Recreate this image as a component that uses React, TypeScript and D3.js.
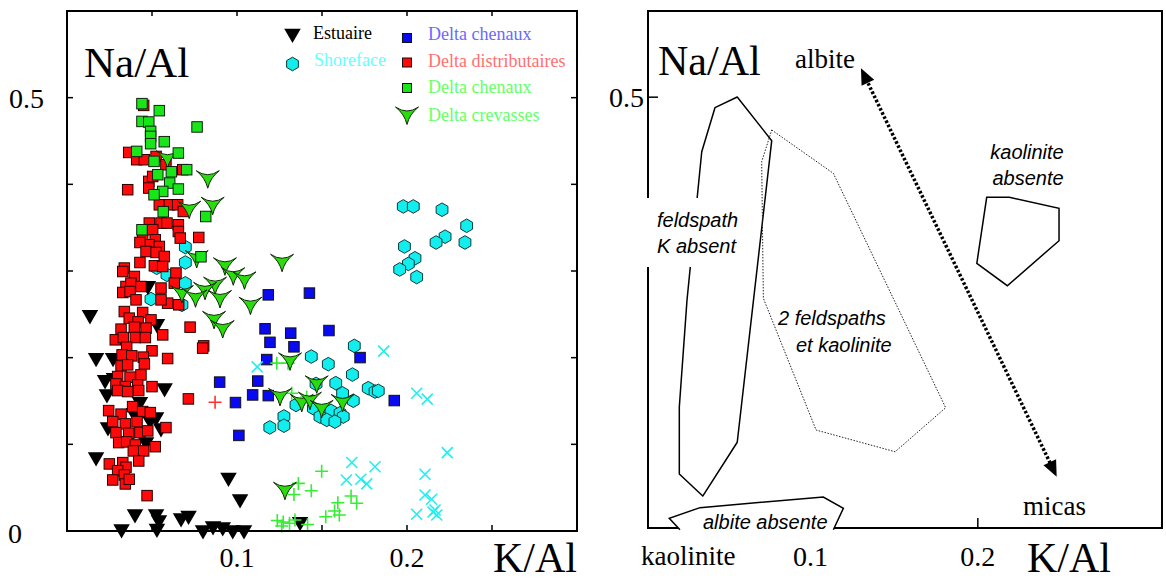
import React from "react";
import * as d3 from "d3";

type Pt = [number, number];

// ---------- Left panel data (K/Al, Na/Al) ----------
const estuaire: Pt[] = [
  [0.0135, 0.2494], [0.0171, 0.1998], [0.0271, 0.1998], [0.0224, 0.1744], [0.0276, 0.1767], [0.0235, 0.1582],
  [0.0476, 0.2829], [0.0529, 0.239], [0.0574, 0.1651], [0.0241, 0.1201], [0.0394, 0.1363], [0.0465, 0.1363],
  [0.0524, 0.1316], [0.0553, 0.1189], [0.0465, 0.1028], [0.0171, 0.0855], [0.095, 0.0618], [0.1018, 0.037],
  [0.04, 0.0196], [0.0524, 0.0196], [0.0541, 0.0127], [0.0671, 0.015], [0.0715, 0.0179], [0.0321, 0.0023],
  [0.0529, 0.0029], [0.08, 0.0012], [0.0859, 0.0058], [0.0916, 0.0046], [0.0975, 0.0012], [0.1041, 0.0012],
  [0.1371, 0.0107], [0.0429, 0.149], [0.0488, 0.1282],
];

const shoreface: Pt[] = [
  [0.0696, 0.3276], [0.0696, 0.3098], [0.0528, 0.3037], [0.0588, 0.2956], [0.0696, 0.2858], [0.0494, 0.2676],
  [0.0676, 0.261],
  [0.169, 0.2136], [0.1437, 0.2013], [0.1537, 0.1925], [0.1679, 0.1805], [0.1581, 0.1706], [0.1465, 0.1697],
  [0.1621, 0.1588], [0.1772, 0.1648], [0.1812, 0.1609], [0.1831, 0.1617], [0.1684, 0.1503], [0.1347, 0.1455],
  [0.1449, 0.1417], [0.1553, 0.1386], [0.1606, 0.1359], [0.1625, 0.132], [0.1488, 0.132], [0.1528, 0.1282],
  [0.1576, 0.1262], [0.1276, 0.1322], [0.1276, 0.1215], [0.1193, 0.1195],
  [0.1978, 0.3745], [0.2037, 0.3745], [0.2206, 0.3707], [0.2351, 0.3522], [0.2341, 0.3329], [0.2224, 0.3396],
  [0.2171, 0.3329], [0.1985, 0.3283], [0.2047, 0.3147], [0.2008, 0.3082], [0.1957, 0.3018], [0.2057, 0.293],
];

const deltaChenauxBleu: Pt[] = [
  [0.1184, 0.2725], [0.1426, 0.2745], [0.1165, 0.2333], [0.1316, 0.2283], [0.1541, 0.2313], [0.1194, 0.2177],
  [0.1335, 0.2125], [0.1724, 0.2001], [0.1175, 0.1978], [0.0898, 0.1718], [0.1122, 0.173], [0.1092, 0.157],
  [0.1184, 0.1562], [0.0991, 0.1482], [0.1925, 0.1505], [0.1011, 0.1103],
];

const deltaDistributaires: Pt[] = [
  [0.0451, 0.4911], [0.0363, 0.4368], [0.041, 0.4284], [0.0455, 0.4284], [0.0524, 0.4322], [0.0582, 0.4226],
  [0.0681, 0.4169], [0.0481, 0.4034], [0.0481, 0.3957], [0.0504, 0.4091], [0.0357, 0.3938], [0.0543, 0.3764],
  [0.0602, 0.3764], [0.0651, 0.3764], [0.0684, 0.3687], [0.0484, 0.3553], [0.0553, 0.3553], [0.0588, 0.3553],
  [0.0655, 0.3533], [0.0655, 0.3456], [0.0666, 0.338], [0.0775, 0.3387], [0.0445, 0.338], [0.0504, 0.3476],
  [0.0519, 0.336], [0.0484, 0.3303], [0.0543, 0.3283], [0.0429, 0.3329], [0.0465, 0.3225], [0.0524, 0.3214],
  [0.0572, 0.3167], [0.0429, 0.3098], [0.0337, 0.3034], [0.0328, 0.2994], [0.0514, 0.306], [0.0563, 0.3052],
  [0.0641, 0.2976], [0.0396, 0.2937], [0.0347, 0.2821], [0.0376, 0.286], [0.0435, 0.2821], [0.0553, 0.2803],
  [0.0631, 0.286], [0.0328, 0.2752], [0.0371, 0.2763], [0.0406, 0.2667], [0.0592, 0.2629], [0.0657, 0.261],
  [0.0553, 0.2667], [0.0337, 0.2532], [0.0366, 0.2456], [0.0445, 0.2521], [0.0494, 0.2436], [0.0418, 0.2413],
  [0.0318, 0.2329], [0.0396, 0.2352], [0.0465, 0.2341], [0.0724, 0.2352], [0.0284, 0.2206], [0.0331, 0.2232],
  [0.0402, 0.2232], [0.0461, 0.2232], [0.0563, 0.2263], [0.0804, 0.2136], [0.0798, 0.211], [0.0351, 0.2121],
  [0.05, 0.2079], [0.0324, 0.2032], [0.0381, 0.2021], [0.0449, 0.2006], [0.0592, 0.199], [0.0318, 0.1905],
  [0.0357, 0.1917], [0.0455, 0.1928], [0.0298, 0.1782], [0.0371, 0.1775], [0.0435, 0.1801], [0.0288, 0.1697],
  [0.0343, 0.1666], [0.0416, 0.1686], [0.05, 0.1666], [0.0298, 0.162], [0.0357, 0.1609], [0.0422, 0.162],
  [0.0714, 0.1524], [0.0245, 0.1389], [0.0318, 0.1348], [0.0386, 0.1435], [0.0445, 0.1378], [0.049, 0.1366],
  [0.0269, 0.1262], [0.0343, 0.1236], [0.0412, 0.1262], [0.0582, 0.1193], [0.0288, 0.1135], [0.0363, 0.1128],
  [0.0429, 0.1135], [0.0475, 0.1155], [0.0304, 0.102], [0.0351, 0.1028], [0.0402, 0.0993], [0.0519, 0.0973],
  [0.039, 0.0924], [0.0451, 0.0924], [0.0422, 0.0808], [0.0249, 0.0774], [0.0328, 0.0789], [0.0347, 0.0736],
  [0.0298, 0.0696], [0.0337, 0.0647], [0.0269, 0.0589], [0.0343, 0.0543], [0.0366, 0.0597], [0.0471, 0.0408],
];

const deltaChenauxVert: Pt[] = [
  [0.0441, 0.4931], [0.0543, 0.485], [0.0441, 0.4726], [0.0481, 0.4719], [0.0765, 0.4662], [0.0492, 0.4611],
  [0.0492, 0.4553], [0.0492, 0.4469], [0.0572, 0.4492], [0.041, 0.438], [0.0655, 0.4361], [0.0512, 0.4265],
  [0.0704, 0.4169], [0.0614, 0.4145], [0.0534, 0.4111], [0.0604, 0.4015], [0.0655, 0.3946], [0.0563, 0.3918],
  [0.0512, 0.388], [0.0566, 0.3684], [0.0816, 0.3629], [0.0441, 0.3476], [0.0788, 0.3164],
];

const deltaCrevasses: Pt[] = [
  [0.0591, 0.4319], [0.0828, 0.4088], [0.0857, 0.3782], [0.0719, 0.3736], [0.0763, 0.3167], [0.0929, 0.3083],
  [0.1265, 0.3124], [0.0978, 0.2968], [0.1044, 0.2921], [0.0871, 0.286], [0.0812, 0.28], [0.0676, 0.2763],
  [0.0756, 0.2714], [0.09, 0.2706], [0.1079, 0.2629], [0.0865, 0.2465], [0.0916, 0.2359], [0.1312, 0.1986],
  [0.1469, 0.1721], [0.1253, 0.1576], [0.1381, 0.1507], [0.1429, 0.1532], [0.1498, 0.1438], [0.1621, 0.1507],
  [0.1282, 0.0493],
];

const plusVert: Pt[] = [
  [0.1234, 0.1937], [0.13, 0.1937], [0.1322, 0.159], [0.141, 0.1547], [0.1498, 0.0689], [0.1361, 0.0549],
  [0.1437, 0.0465], [0.1335, 0.0421], [0.1671, 0.0404], [0.1704, 0.032], [0.1593, 0.0326], [0.1574, 0.0231],
  [0.1602, 0.0185], [0.1522, 0.0165], [0.1237, 0.0121], [0.1272, 0.0104], [0.1309, 0.0089], [0.1341, 0.0127],
  [0.1415, 0.0075], [0.1263, 0.0058],
];

const croixCyan: Pt[] = [
  [0.1863, 0.2075], [0.1119, 0.1894], [0.2057, 0.159], [0.2119, 0.1521], [0.1675, 0.0791], [0.1812, 0.0742],
  [0.1643, 0.0589], [0.1728, 0.0597], [0.1763, 0.0543], [0.2237, 0.0904], [0.2106, 0.0655], [0.2106, 0.0416],
  [0.2145, 0.0366], [0.2057, 0.0193], [0.2165, 0.0242], [0.2175, 0.0185], [0.2153, 0.0219],
];

const plusRouge: Pt[] = [[0.0871, 0.1486]];

// ---------- Right panel domains ----------
const feldspathKAbsent: Pt[] = [
  [0.0217, 0.0627], [0.0217, 0.1404], [0.0263, 0.2646], [0.0351, 0.4367], [0.043, 0.4878], [0.0563, 0.5002],
  [0.0769, 0.4495], [0.0563, 0.0995], [0.0357, 0.0371],
];
const deuxFeldspaths: Pt[] = [
  [0.0769, 0.4619], [0.1137, 0.4116], [0.1808, 0.1396], [0.1506, 0.0885], [0.1034, 0.1137], [0.0719, 0.2666],
  [0.0709, 0.4251],
];
const kaoliniteAbsente: Pt[] = [
  [0.2053, 0.3838], [0.2188, 0.3838], [0.2485, 0.371], [0.2485, 0.3334], [0.2176, 0.2812], [0.1994, 0.3072],
];
const albiteAbsente: Pt[] = [
  [0.0221, -0.002], [0.0157, 0.0113], [0.0341, 0.0236], [0.1077, 0.036], [0.1197, 0.0229], [0.1137, -0.002],
];
const arrowAlbite: Pt = [0.1302, 0.5335];
const arrowMicas: Pt = [0.2471, 0.0595];

const yTicksL = [0.1, 0.2, 0.3, 0.4, 0.5];
const xTicksL = [0.05, 0.1, 0.15, 0.2, 0.25];

const SERIF = "'Liberation Serif', 'Times New Roman', serif";
const SANS = "'Liberation Sans', Arial, sans-serif";

const hexPath = (() => {
  const r = 6.8;
  const pts = d3.range(6).map((i) => {
    const a = (Math.PI / 3) * i - Math.PI / 2;
    return [r * Math.cos(a), r * Math.sin(a)];
  });
  return "M" + pts.map((p) => p[0].toFixed(2) + "," + p[1].toFixed(2)).join("L") + "Z";
})();
const triPath = d3.symbol(d3.symbolTriangle, 118)() as string;
const yPath = "M-11.5,-6 Q0,2 11.5,-6 Q2.5,1 0,11.5 Q-2.5,1 -11.5,-6 Z";

const C = {
  red: "#ff0a0a",
  green: "#19e619",
  blue: "#0a0af0",
  cyan: "#12eeee",
  yGreen: "#2adc0c",
};

export default function App() {
  const xL = d3.scaleLinear().domain([0, 0.3]).range([67, 577]);
  const yL = d3.scaleLinear().domain([0, 0.6]).range([531, 11]);
  const xR = d3.scaleLinear().domain([0.003, 0.31]).range([648, 1162]);
  const yR = d3.scaleLinear().domain([0, 0.6]).range([528, 11]);

  const polyR = (pts: Pt[]) => pts.map((p) => `${xR(p[0])},${yR(p[1])}`).join(" ");

  // arrow geometry
  const a0 = [xR(arrowAlbite[0]), yR(arrowAlbite[1])];
  const a1 = [xR(arrowMicas[0]), yR(arrowMicas[1])];
  const dx = a1[0] - a0[0], dy = a1[1] - a0[1];
  const len = Math.hypot(dx, dy);
  const ux = dx / len, uy = dy / len;
  const hl = 16, hw = 7;
  const head = (tip: number[], dir: number) => {
    const bx = tip[0] - dir * ux * hl, by = tip[1] - dir * uy * hl;
    return `${tip[0]},${tip[1]} ${bx - uy * hw},${by + ux * hw} ${bx + uy * hw},${by - ux * hw}`;
  };

  const sq = 10.5;

  return (
    <svg width={1166} height={582} style={{ position: "absolute", left: 0, top: 0, background: "#fff" }}>
      <rect x={0} y={0} width={1166} height={582} fill="#fff" />
      {/* ================= LEFT PANEL ================= */}
      <g>
        <g>
          {shoreface.map((d, i) => (
            <path key={"h" + i} d={hexPath} transform={`translate(${xL(d[0])},${yL(d[1])})`} fill={C.cyan} stroke="#0b3b3b" strokeWidth={1} />
          ))}
        </g>
        <g>
          {estuaire.map((d, i) => (
            <path key={"t" + i} d={triPath} transform={`translate(${xL(d[0])},${yL(d[1])}) rotate(180)`} fill="#000" />
          ))}
        </g>
        <g>
          {deltaDistributaires.map((d, i) => (
            <rect key={"r" + i} x={xL(d[0]) - sq / 2} y={yL(d[1]) - sq / 2} width={sq} height={sq} fill={C.red} stroke="#2a0000" strokeWidth={1} />
          ))}
        </g>
        <g>
          {deltaChenauxBleu.map((d, i) => (
            <rect key={"b" + i} x={xL(d[0]) - sq / 2} y={yL(d[1]) - sq / 2} width={sq} height={sq} fill={C.blue} stroke="#111" strokeWidth={1} />
          ))}
        </g>
        <g stroke="#22eeee" strokeWidth={1.6}>
          {croixCyan.map((d, i) => {
            const cx = xL(d[0]), cy = yL(d[1]), s = 5.5;
            return <path key={"x" + i} d={`M${cx - s},${cy - s}L${cx + s},${cy + s}M${cx - s},${cy + s}L${cx + s},${cy - s}`} />;
          })}
        </g>
        <g stroke="#33ee33" strokeWidth={1.6}>
          {plusVert.map((d, i) => {
            const cx = xL(d[0]), cy = yL(d[1]), s = 6.5;
            return <path key={"p" + i} d={`M${cx - s},${cy}L${cx + s},${cy}M${cx},${cy - s}L${cx},${cy + s}`} />;
          })}
        </g>
        <g stroke="#ff3030" strokeWidth={1.6}>
          {plusRouge.map((d, i) => {
            const cx = xL(d[0]), cy = yL(d[1]), s = 6.5;
            return <path key={"pr" + i} d={`M${cx - s},${cy}L${cx + s},${cy}M${cx},${cy - s}L${cx},${cy + s}`} />;
          })}
        </g>
        <g>
          {deltaCrevasses.map((d, i) => (
            <path key={"y" + i} d={yPath} transform={`translate(${xL(d[0])},${yL(d[1])})`} fill={C.yGreen} stroke="#0d2a05" strokeWidth={1} />
          ))}
        </g>
        <g>
          {deltaChenauxVert.map((d, i) => (
            <rect key={"g" + i} x={xL(d[0]) - sq / 2} y={yL(d[1]) - sq / 2} width={sq} height={sq} fill={C.green} stroke="#102010" strokeWidth={1} />
          ))}
        </g>

        {/* frame */}
        <rect x={xL(0)} y={yL(0.6)} width={xL(0.3) - xL(0)} height={yL(0) - yL(0.6)} fill="none" stroke="#000" strokeWidth={2} />
        <g stroke="#000" strokeWidth={1.5}>
          {yTicksL.map((t) => (
            <g key={"yt" + t}>
              <line x1={xL(0)} x2={xL(0) + 6} y1={yL(t)} y2={yL(t)} />
              <line x1={xL(0.3)} x2={xL(0.3) - 6} y1={yL(t)} y2={yL(t)} />
            </g>
          ))}
          {xTicksL.map((t) => (
            <g key={"xt" + t}>
              <line x1={xL(t)} x2={xL(t)} y1={yL(0.6)} y2={yL(0.6) + 5} />
              <line x1={xL(t)} x2={xL(t)} y1={yL(0)} y2={yL(0) - 6} />
            </g>
          ))}
        </g>
        <g fontFamily={SERIF} fontSize={28} fill="#000">
          <text x={9} y={yL(0.5) + 10}>0.5</text>
          <text x={8} y={yL(0) + 12}>0</text>
          <text x={xL(0.1)} y={567} textAnchor="middle">0.1</text>
          <text x={xL(0.2)} y={567} textAnchor="middle">0.2</text>
        </g>
        <text x={84} y={77} fontFamily={SERIF} fontSize={43}>Na/Al</text>
        <text x={493} y={572} fontFamily={SERIF} fontSize={42}>K/Al</text>

        {/* legend */}
        <g fontFamily={SERIF} fontSize={18}>
          <path d={triPath} transform="translate(292.5,33.5) rotate(180)" fill="#000" />
          <text x={313} y={39} fill="#000">Estuaire</text>
          <path d={hexPath} transform="translate(292.5,64)" fill={C.cyan} stroke="#0b3b3b" />
          <text x={314} y={65.5} fill="#66ffff">Shoreface</text>
          <rect x={407 - 4.5} y={38 - 4.5} width={9} height={9} fill={C.blue} stroke="#111" />
          <text x={428} y={40} fill="#6a6aff">Delta chenaux</text>
          <rect x={407 - 4.5} y={62.5 - 4.5} width={9} height={9} fill={C.red} stroke="#111" />
          <text x={428} y={66.5} fill="#ff7070">Delta distributaires</text>
          <rect x={407 - 4.5} y={88 - 4.5} width={9} height={9} fill={C.green} stroke="#111" />
          <text x={428} y={93} fill="#66ff66">Delta chenaux</text>
          <path d={yPath} transform="translate(407,113)" fill={C.yGreen} stroke="#0d2a05" />
          <text x={428} y={120.5} fill="#66ff66">Delta crevasses</text>
        </g>
      </g>

      {/* ================= RIGHT PANEL ================= */}
      <g>
        <rect x={xR(0.003)} y={yR(0.6)} width={xR(0.31) - xR(0.003)} height={yR(0) - yR(0.6)} fill="none" stroke="#000" strokeWidth={2} />
        <g stroke="#000" strokeWidth={1.5}>
          <line x1={xR(0.003)} x2={xR(0.003) + 10} y1={yR(0.5)} y2={yR(0.5)} />
          <line x1={xR(0.1)} x2={xR(0.1)} y1={yR(0)} y2={yR(0) - 10} />
          <line x1={xR(0.2)} x2={xR(0.2)} y1={yR(0)} y2={yR(0) - 10} />
        </g>

        <polygon points={polyR(feldspathKAbsent)} fill="none" stroke="#000" strokeWidth={1.5} strokeLinejoin="round" />
        <polygon points={polyR(deuxFeldspaths)} fill="none" stroke="#222" strokeWidth={1} strokeDasharray="1.5 1.5" />
        <polygon points={polyR(kaoliniteAbsente)} fill="none" stroke="#000" strokeWidth={1.5} />
        <polygon points={polyR(albiteAbsente)} fill="#fff" stroke="none" />
        <polyline points={polyR(albiteAbsente)} fill="none" stroke="#000" strokeWidth={1.5} />

        <rect x={640} y={198} width={108} height={69} fill="#fff" />

        <line
          x1={a0[0] + ux * 12}
          y1={a0[1] + uy * 12}
          x2={a1[0] - ux * 12}
          y2={a1[1] - uy * 12}
          stroke="#000"
          strokeWidth={3.5}
          strokeDasharray="2.6 2"
        />
        <polygon points={head(a0, -1)} fill="#000" />
        <polygon points={head(a1, 1)} fill="#000" />

        <g fontFamily={SANS} fontStyle="italic" fontSize={20} fill="#000">
          <text x={657} y={227}>feldspath</text>
          <text x={657} y={253}>K absent</text>
          <text x={1027} y={159} textAnchor="middle">kaolinite</text>
          <text x={1028} y={185} textAnchor="middle">absente</text>
          <text x={778} y={325}>2 feldspaths</text>
          <text x={796} y={352}>et kaolinite</text>
          <text x={703} y={529}>albite absente</text>
        </g>

        <g fontFamily={SERIF} fill="#000">
          <text x={795} y={68} fontSize={27}>albite</text>
          <text x={1023} y={515} fontSize={27}>micas</text>
          <text x={641} y={565} fontSize={27}>kaolinite</text>
          <text x={xR(0.1)} y={566} fontSize={28} textAnchor="middle">0.1</text>
          <text x={xR(0.2)} y={566} fontSize={28} textAnchor="middle">0.2</text>
          <text x={609} y={yR(0.5) + 10} fontSize={28}>0.5</text>
          <text x={658} y={75} fontSize={42}>Na/Al</text>
          <text x={1027} y={572} fontSize={42}>K/Al</text>
        </g>
      </g>
    </svg>
  );
}
